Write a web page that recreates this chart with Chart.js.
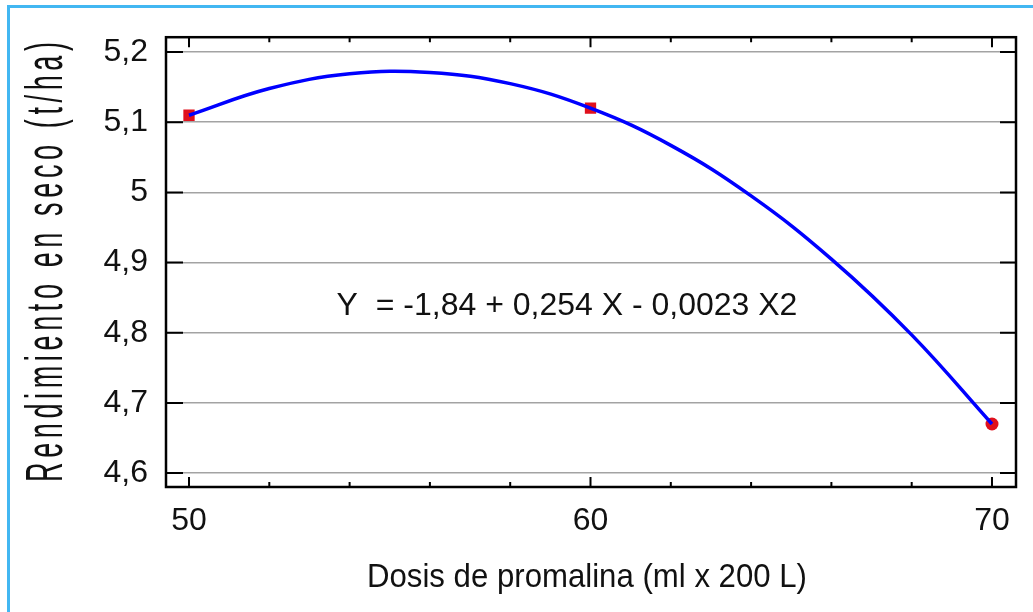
<!DOCTYPE html>
<html>
<head>
<meta charset="utf-8">
<script src="https://cdn.jsdelivr.net/npm/chart.js@4.4.1/dist/chart.umd.min.js"></script>
<style>
    html, body { margin: 0; padding: 0; background: #fff; overflow: hidden; }
    #wrap { position: relative; width: 1033px; height: 612px; overflow: hidden; }
    #frame { position: absolute; left: 7px; top: 5px; width: 1060px; height: 640px; border: 3px solid #42b7f2; box-sizing: border-box; }
    canvas { position: absolute; left: 0; top: 0; }
</style>
</head>
<body>
<div id="wrap">
    <div id="frame"></div>
    <canvas id="yieldChart" width="1033" height="612"></canvas>
</div>
<script>
// Observed points (dose, dry yield)
const doseValues = [50, 60, 70];
const yieldValues = [5.11, 5.12, 4.67];

// Fitted curve, every 2 units
const curveDose = [50, 52, 54, 56, 58, 60, 62, 64, 66, 68, 70];
const curveYield = [5.11, 5.148, 5.169, 5.171, 5.155, 5.12, 5.067, 4.995, 4.905, 4.797, 4.67];

// Axis ticks
const xTicks = [50, 52, 54, 56, 58, 60, 62, 64, 66, 68, 70];
const xTickLabels = ['50', '', '', '', '', '60', '', '', '', '', '70'];
const yTicks = [4.6, 4.7, 4.8, 4.9, 5.0, 5.1, 5.2];
const yTickLabels = ['4,6', '4,7', '4,8', '4,9', '5', '5,1', '5,2'];

const xTitle = 'Dosis de promalina (ml x 200 L)';
const yTitle = 'Rendimiento en seco (t/ha)';
const equation = 'Y  = -1,84 + 0,254 X - 0,0023 X2';

const textColor = '#111';
const fontFamily = "'Liberation Sans', Arial, sans-serif";

// frame + inward ticks + free texts
const decorPlugin = {
    id: 'decor',
    beforeDatasetsDraw(chart) {
        const ctx = chart.ctx;
        const area = chart.chartArea;
        const xs = chart.scales.x;
        const ys = chart.scales.y;
        ctx.save();
        ctx.strokeStyle = '#000';
        ctx.lineWidth = 2;
        ctx.beginPath();
        yTicks.forEach(function(v) {
            const py = ys.getPixelForValue(v);
            ctx.moveTo(area.left, py);
            ctx.lineTo(area.left + 17, py);
            ctx.moveTo(area.right, py);
            ctx.lineTo(area.right - 16, py);
        });
        xTicks.forEach(function(v, i) {
            const px = xs.getPixelForValue(v);
            const len = xTickLabels[i] ? 10 : 5;
            ctx.moveTo(px, area.bottom);
            ctx.lineTo(px, area.bottom - len);
            ctx.moveTo(px, area.top);
            ctx.lineTo(px, area.top + len);
        });
        ctx.stroke();
        ctx.lineWidth = 2.5;
        ctx.strokeRect(area.left, area.top, area.right - area.left, area.bottom - area.top);
        ctx.restore();
    },
    afterDraw(chart) {
        const ctx = chart.ctx;
        ctx.save();
        ctx.fillStyle = textColor;
        ctx.textBaseline = 'alphabetic';

        // equation
        ctx.font = '32px ' + fontFamily;
        ctx.textAlign = 'center';
        ctx.fillText(equation, 567, 315);

        // x title, slightly condensed
        ctx.font = '33px ' + fontFamily;
        const w = ctx.measureText(xTitle).width;
        ctx.save();
        ctx.translate(587, 587);
        ctx.scale(440 / w, 1);
        ctx.fillText(xTitle, 0, 0);
        ctx.restore();

        // y title: tall narrow letters, spaced out
        ctx.font = '52px ' + fontFamily;
        ctx.textAlign = 'left';
        const sx = 0.52;
        const chars = yTitle.split('');
        const widths = chars.map(function(c) { return ctx.measureText(c).width * sx; });
        const sum = widths.reduce(function(a, b) { return a + b; }, 0);
        const total = 440;
        const gap = (total - sum) / (chars.length - 1);
        ctx.save();
        ctx.translate(62, 262);
        ctx.rotate(-Math.PI / 2);
        let pos = -total / 2;
        chars.forEach(function(c, i) {
            ctx.save();
            ctx.translate(pos, 0);
            ctx.scale(sx, 1);
            ctx.fillText(c, 0, 0);
            ctx.restore();
            pos += widths[i] + gap;
        });
        ctx.restore();
        ctx.restore();
    }
};

document.addEventListener('DOMContentLoaded', function() {
    const ctx = document.getElementById('yieldChart').getContext('2d');
    new Chart(ctx, {
        type: 'scatter',
        data: {
            datasets: [{
                type: 'line',
                label: 'Ajuste',
                data: curveDose.map(function(x, i) { return { x: x, y: curveYield[i] }; }),
                borderColor: '#0000ff',
                borderWidth: 3.5,
                pointRadius: 0,
                tension: 0.4,
                fill: false,
                order: 0
            }, {
                label: 'Observado',
                data: doseValues.map(function(x, i) { return { x: x, y: yieldValues[i] }; }),
                backgroundColor: '#e0101c',
                borderColor: '#e0101c',
                borderWidth: 0,
                pointStyle: ['rect', 'rect', 'circle'],
                pointRadius: [8, 8, 6.5],
                showLine: false,
                order: 1
            }]
        },
        options: {
            responsive: false,
            animation: false,
            layout: { padding: { top: 34, right: 17, left: 0, bottom: 0 } },
            plugins: {
                legend: { display: false },
                tooltip: { enabled: false }
            },
            scales: {
                x: {
                    type: 'linear',
                    min: 49.427,
                    max: 70.598,
                    afterBuildTicks: function(scale) {
                        scale.ticks = xTicks.map(function(v) { return { value: v }; });
                    },
                    afterFit: function(scale) { scale.height = 125; },
                    grid: { display: false, drawTicks: false },
                    border: { display: false },
                    ticks: {
                        autoSkip: false,
                        maxRotation: 0,
                        padding: 15,
                        color: textColor,
                        font: { family: fontFamily, size: 32 },
                        callback: function(value, index) { return xTickLabels[index]; }
                    }
                },
                y: {
                    type: 'linear',
                    min: 4.5802,
                    max: 5.2212,
                    afterBuildTicks: function(scale) {
                        scale.ticks = yTicks.map(function(v) { return { value: v }; });
                    },
                    afterFit: function(scale) { scale.width = 166; },
                    grid: { color: '#a3a3a3', lineWidth: 1.5, drawTicks: false },
                    border: { display: false },
                    ticks: {
                        autoSkip: false,
                        padding: 18,
                        color: textColor,
                        font: { family: fontFamily, size: 32 },
                        callback: function(value, index) { return yTickLabels[index]; }
                    }
                }
            }
        },
        plugins: [decorPlugin]
    });
});
</script>
</body>
</html>
